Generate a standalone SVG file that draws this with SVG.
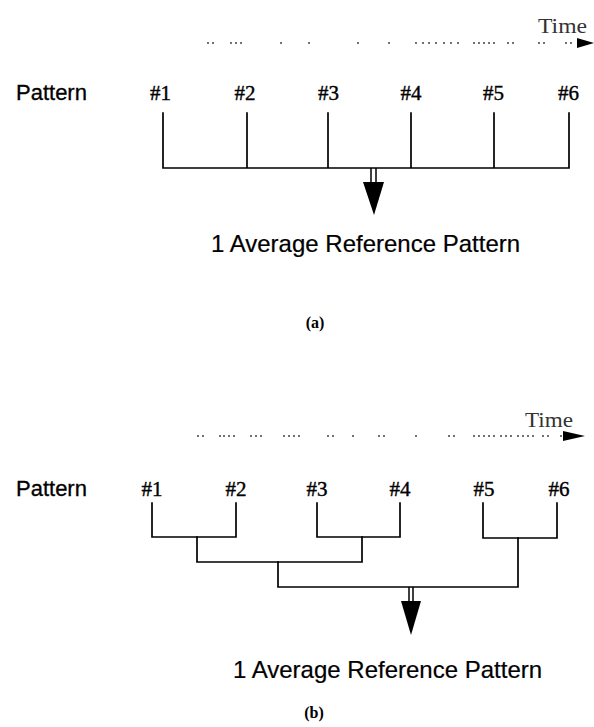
<svg xmlns="http://www.w3.org/2000/svg" width="594" height="727" viewBox="0 0 594 727">
  <style>
    .lbl { font-family: "Liberation Sans", Arial, sans-serif; font-size: 22px; fill: #000; stroke: #000; stroke-width: 0.3; }
    .num { font-family: "Liberation Serif", "Times New Roman", serif; font-size: 21px; fill: #000; stroke: #000; stroke-width: 0.4; text-anchor: middle; }
    .time { font-family: "Liberation Serif", "Times New Roman", serif; font-size: 22px; fill: #333; }
    .result { font-family: "Liberation Sans", Arial, sans-serif; font-size: 24px; fill: #000; stroke: #000; stroke-width: 0.2; }
    .cap { font-family: "Liberation Serif", "Times New Roman", serif; font-size: 16px; font-weight: bold; fill: #000; text-anchor: middle; }
    .wire { stroke: #000; stroke-width: 1.7; fill: none; stroke-linecap: square; }
    .dots { stroke: #444; stroke-width: 1.3; fill: none; }
    .shaft { stroke: #000; stroke-width: 1.5; fill: none; }
  </style>

  <!-- (a) all six patterns averaged at once -->
  <g id="time-axis-a">
    <text class="time" x="538" y="33" textLength="49" lengthAdjust="spacingAndGlyphs">Time</text>
    <path class="dots" d="M207 43h2M212 43h2M230 43h2M235 43h2M240 43h2M280 43h2M308 43h2M357 43h2M388 43h2M415 43h2M422 43h2M428 43h2M435 43h2M443 43h2M450 43h2M457 43h2M473 43h2M478 43h2M483 43h2M488 43h2M493 43h2M507 43h2M512 43h2M538 43h2M543 43h2M565 43h2M570 43h2"/>
    <polygon points="577,38 594,43 577,48" fill="#000"/>
  </g>
  <g id="row-a">
    <text class="lbl" x="16" y="100">Pattern</text>
    <text class="num" x="160.5" y="100">#1</text>
    <text class="num" x="245" y="100">#2</text>
    <text class="num" x="328.5" y="100">#3</text>
    <text class="num" x="411" y="100">#4</text>
    <text class="num" x="493.5" y="100">#5</text>
    <text class="num" x="568.5" y="100">#6</text>
  </g>
  <g id="connectors-a">
    <path class="wire" d="M163 113V168M247 113V168M328 113V168M411 113V168M494 113V168M569 113V168M163 168H569"/>
    <path class="shaft" d="M371 168V182M376 168V182"/>
    <polygon points="363,182 384,182 374,215" fill="#000"/>
  </g>
  <g id="result-a">
    <text class="result" x="211" y="252">1 Average Reference Pattern</text>
    <text class="cap" x="315" y="328">(a)</text>
  </g>

  <!-- (b) patterns averaged pairwise in a tree -->
  <g id="time-axis-b">
    <text class="time" x="525" y="427" textLength="48" lengthAdjust="spacingAndGlyphs">Time</text>
    <path class="dots" d="M197 436h2M202 436h2M219 436h2M223 436h2M228 436h2M233 436h2M250 436h2M255 436h2M260 436h2M283 436h2M288 436h2M293 436h2M298 436h2M327 436h2M332 436h2M352 436h2M378 436h2M383 436h2M415 436h2M448 436h2M453 436h2M473 436h2M478 436h2M483 436h2M488 436h2M493 436h2M500 436h2M505 436h2M510 436h2M517 436h2M522 436h2M527 436h2M532 436h2M542 436h2M547 436h2M560 436h2"/>
    <polygon points="563,431 585,436 563,441" fill="#000"/>
  </g>
  <g id="row-b">
    <text class="lbl" x="16" y="496">Pattern</text>
    <text class="num" x="152" y="496">#1</text>
    <text class="num" x="236" y="496">#2</text>
    <text class="num" x="317" y="496">#3</text>
    <text class="num" x="400" y="496">#4</text>
    <text class="num" x="484" y="496">#5</text>
    <text class="num" x="559" y="496">#6</text>
  </g>
  <g id="connectors-b">
    <path class="wire" d="M152 503V537H236V503M317 503V537H400V503M483 503V538H557V503"/>
    <path class="wire" d="M197 537V562M362 537V562M197 562H362"/>
    <path class="wire" d="M278 562V587M518 538V587M278 587H518"/>
    <path class="shaft" d="M409 587V601M413 587V601"/>
    <polygon points="401,601 421,601 411,635" fill="#000"/>
  </g>
  <g id="result-b">
    <text class="result" x="233" y="678">1 Average Reference Pattern</text>
    <text class="cap" x="314" y="718">(b)</text>
  </g>
</svg>
